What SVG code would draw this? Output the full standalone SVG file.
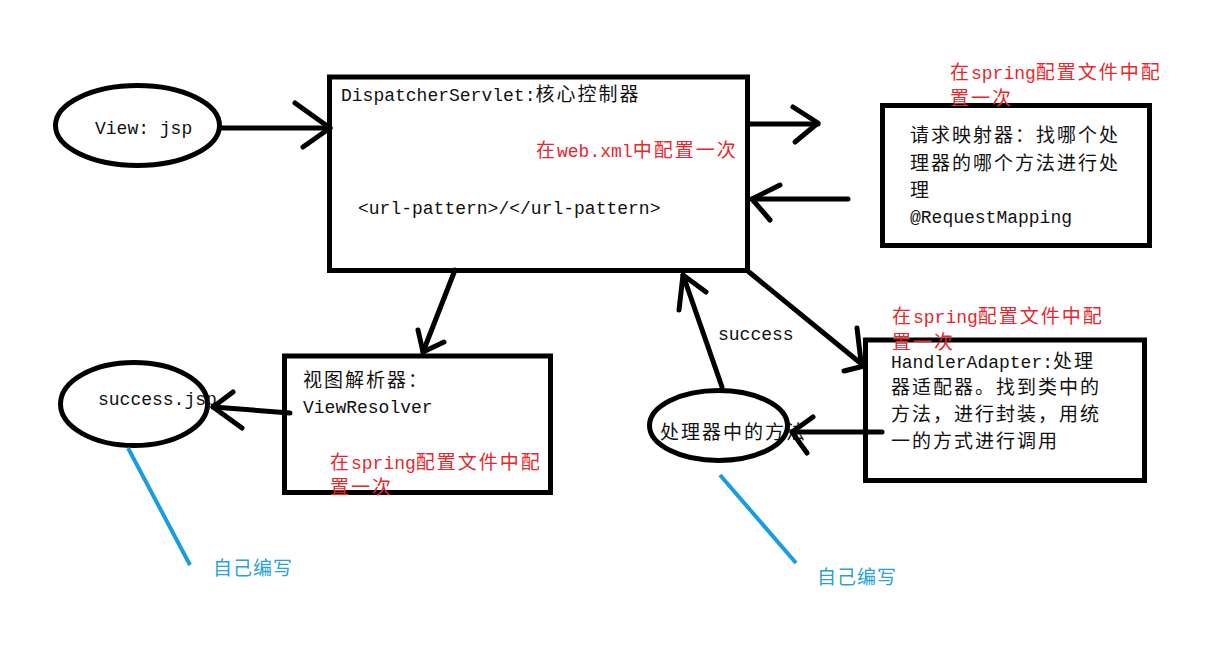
<svg xmlns="http://www.w3.org/2000/svg" width="1230" height="645" viewBox="0 0 1230 645">
<style>
.s{fill:none;stroke:#000;stroke-width:5;stroke-linecap:round;stroke-linejoin:round}
.b{fill:none;stroke:#1a9ddc;stroke-width:4;stroke-linecap:butt}
.n{fill:#fff;stroke:#000;stroke-width:5}
.t{font-family:"Liberation Mono","Noto Sans CJK SC",monospace;font-size:18px;fill:#111}
.c{font-size:19px;letter-spacing:2px}
.r{fill:#e8262c}
.bl{font-family:"Noto Sans CJK SC",sans-serif;font-size:19px;letter-spacing:1px;fill:#2a9fd8}
</style>
<rect width="1230" height="645" fill="#fff"/>
<g id="view">
<ellipse class="n" cx="137.5" cy="125.5" rx="82" ry="40"/>
<text class="t" x="95" y="134">View: jsp</text>
</g>
<g id="dispatcher">
<rect class="n" x="329.5" y="77" width="418" height="193.5"/>
<text class="t" x="341" y="101">DispatcherServlet:<tspan class="c">核心控制器</tspan></text>
<text class="t r" x="536" y="157"><tspan class="c">在</tspan>web.xml<tspan class="c">中配置一次</tspan></text>
<text class="t" x="358" y="214">&lt;url-pattern&gt;/&lt;/url-pattern&gt;</text>
</g>
<g id="mapping">
<rect class="n" x="882.5" y="105.5" width="267" height="140"/>
<text class="t r" x="950" y="79"><tspan class="c">在</tspan>spring<tspan class="c">配置文件中配</tspan></text>
<text class="t r c" x="950" y="105">置一次</text>
<text class="t c" x="910" y="142">请求映射器：找哪个处</text>
<text class="t c" x="910" y="170">理器的哪个方法进行处</text>
<text class="t c" x="910" y="197">理</text>
<text class="t" x="910" y="223">@RequestMapping</text>
</g>
<g id="viewresolver">
<rect class="n" x="284.5" y="356" width="266" height="136.5"/>
<text class="t c" x="303" y="387">视图解析器：</text>
<text class="t" x="303" y="413">ViewResolver</text>
<text class="t r" x="330" y="469"><tspan class="c">在</tspan>spring<tspan class="c">配置文件中配</tspan></text>
<text class="t r c" x="330" y="494">置一次</text>
</g>
<g id="successjsp">
<ellipse class="n" cx="134" cy="404" rx="73.5" ry="41.5"/>
<text class="t" x="98" y="405">success.jsp</text>
</g>
<g id="adapter">
<rect class="n" x="865.5" y="340" width="279" height="140.5"/>
<text class="t r" x="892" y="323"><tspan class="c">在</tspan>spring<tspan class="c">配置文件中配</tspan></text>
<text class="t r c" x="892" y="349">置一次</text>
<text class="t" x="891" y="368">HandlerAdapter:<tspan class="c">处理</tspan></text>
<text class="t c" x="891" y="394">器适配器。找到类中的</text>
<text class="t c" x="891" y="421">方法，进行封装，用统</text>
<text class="t c" x="891" y="448">一的方式进行调用</text>
</g>
<g id="method">
<ellipse class="n" cx="718.5" cy="425.5" rx="69" ry="35"/>
<text class="t c" x="660" y="439">处理器中的方法</text>
</g>
<g id="connectors">
<line class="s" x1="222" y1="128" x2="330" y2="128"/>
<polyline class="s" points="295,103 330,128 303,147"/>
<line class="s" x1="748" y1="124" x2="818" y2="124"/>
<polyline class="s" points="793,107 818,123 795,142"/>
<line class="s" x1="848" y1="199" x2="752" y2="199"/>
<polyline class="s" points="780,185 752,199 770,220"/>
<line class="s" x1="455" y1="270" x2="423" y2="352"/>
<polyline class="s" points="418,330 423,352 444,342"/>
<line class="s" x1="290" y1="413" x2="213" y2="407"/>
<polyline class="s" points="233,392 213,407 242,428"/>
<line class="s" x1="722" y1="387" x2="683" y2="275"/>
<polyline class="s" points="679,310 683,275 706,292"/>
<line class="s" x1="749" y1="272" x2="864" y2="366"/>
<polyline class="s" points="857,328 861,362 864,366 844,371"/>
<line class="s" x1="882" y1="432" x2="792" y2="432"/>
<polyline class="s" points="813,417 792,432 807,453"/>
<text class="t" x="718" y="340">success</text>
<line class="b" x1="128" y1="448" x2="190" y2="565"/>
<line class="b" x1="720" y1="475" x2="796" y2="563"/>
<text class="bl" x="213" y="575">自己编写</text>
<text class="bl" x="817" y="584">自己编写</text>
</g>
</svg>
